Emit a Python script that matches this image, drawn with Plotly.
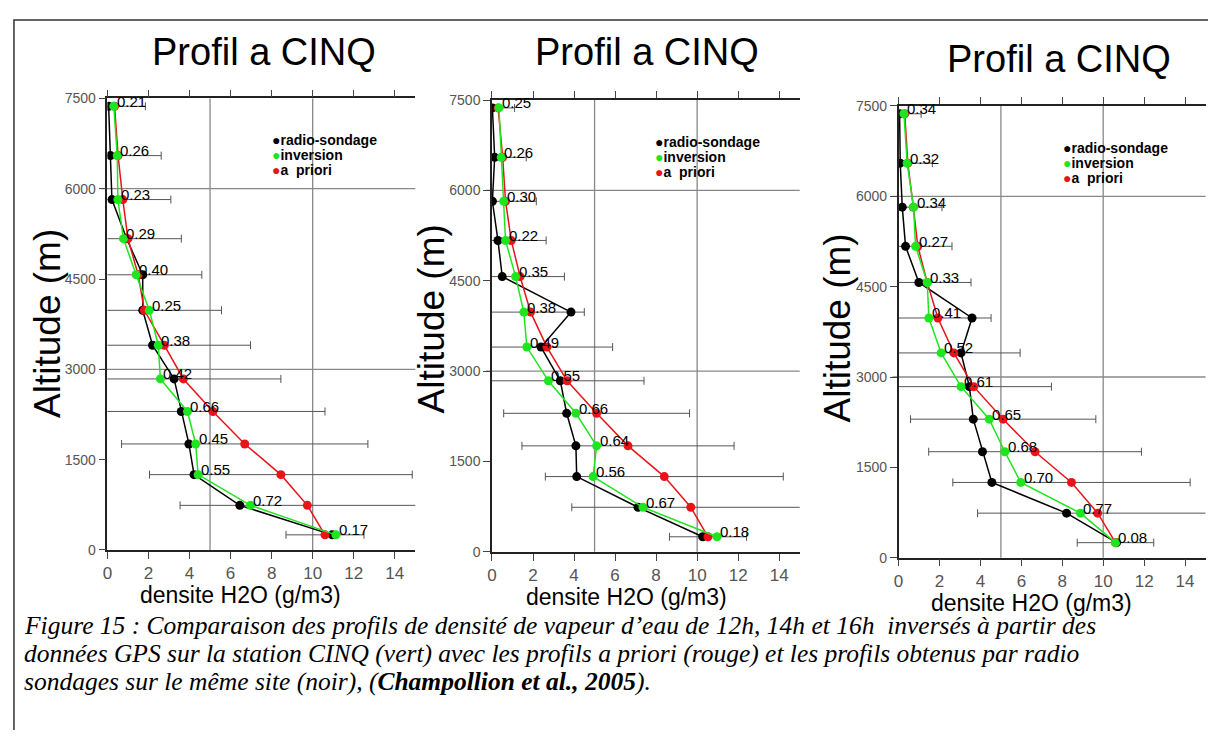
import plotly.graph_objects as go

PAGE_W, PAGE_H = 1216, 738
OFF = 8  # default margin of the html body around the figure
W, H = PAGE_W - 2 * OFF, PAGE_H - 2 * OFF

# ---------------- data ----------------
altitudes = [7370, 6550, 5820, 5170, 4570, 3980, 3400, 2840, 2300, 1760, 1250, 740, 250]

radio_12h = [0.06, 0.15, 0.22, 0.94, 1.72, 1.72, 2.2, 3.25, 3.6, 3.97, 4.22, 6.45, 10.95]
inversion_12h = [0.31, 0.48, 0.51, 0.78, 1.4, 2.04, 2.48, 2.58, 3.9, 4.3, 4.42, 6.97, 11.13]
apriori_12h = [0.35, 0.52, 0.75, 1.0, 1.5, 1.8, 2.77, 3.7, 5.14, 6.69, 8.45, 9.74, 10.6]
sigma_12h = [1.5, 2.1, 2.34, 2.6, 3.1, 3.76, 4.2, 4.75, 5.46, 6.0, 6.4, 6.2, 1.9]
labels_12h = ["0.21", "0.26", "0.23", "0.29", "0.40", "0.25", "0.38", "0.42", "0.66", "0.45", "0.55", "0.72", "0.17"]

radio_14h = [0.02, 0.13, 0.02, 0.29, 0.5, 3.85, 2.39, 3.33, 3.64, 4.09, 4.13, 7.12, 10.27]
inversion_14h = [0.34, 0.45, 0.57, 0.66, 1.15, 1.55, 1.7, 2.75, 4.09, 5.1, 4.93, 7.36, 10.97]
apriori_14h = [0.3, 0.52, 0.66, 0.94, 1.37, 1.88, 2.68, 3.66, 5.1, 6.63, 8.4, 9.69, 10.53]
sigma_14h = [0.8, 1.15, 1.5, 1.7, 2.16, 2.62, 3.2, 3.75, 4.53, 5.17, 5.8, 5.8, 1.88]
labels_14h = ["0.25", "0.26", "0.30", "0.22", "0.35", "0.38", "0.49", "0.55", "0.66", "0.64", "0.56", "0.67", "0.18"]

radio_16h = [0.05, 0.08, 0.18, 0.34, 0.99, 3.59, 3.05, 3.46, 3.65, 4.1, 4.56, 8.21, 10.65]
inversion_16h = [0.26, 0.42, 0.73, 0.83, 1.4, 1.48, 2.08, 3.05, 4.43, 5.19, 5.97, 8.89, 10.6]
apriori_16h = [0.3, 0.45, 0.72, 0.94, 1.4, 1.92, 2.7, 3.67, 5.11, 6.67, 8.45, 9.73, 10.6]
sigma_16h = [0.8, 1.2, 1.4, 1.67, 2.14, 2.6, 3.24, 3.8, 4.53, 5.2, 5.8, 5.87, 1.87]
labels_16h = ["0.34", "0.32", "0.34", "0.27", "0.33", "0.41", "0.52", "0.61", "0.65", "0.68", "0.70", "0.77", "0.08"]

x_ticks = [0, 2, 4, 6, 8, 10, 12, 14]
y_ticks = [0, 1500, 3000, 4500, 6000, 7500]
x_grid = [5, 10]
y_grid = [3000, 6000]

panel_title = "Profil a CINQ"
x_title = "densite H2O (g/m3)"
y_title = "Altitude (m)"
legend_names = ["radio-sondage", "inversion", "a  priori"]
caption_lines = [
    "Figure 15 : Comparaison des profils de densité de vapeur d’eau de 12h, 14h et 16h  inversés à partir des",
    "données GPS sur la station CINQ (vert) avec les profils a priori (rouge) et les profils obtenus par radio",
    "sondages sur le même site (noir), (<b>Champollion et al., 2005</b>).",
]

BLACK = "#000000"
GREEN = "#1ee61e"
RED = "#e8141a"
GREY = "#555555"

SANS = "Liberation Sans, Arial, sans-serif"
SERIF = "Liberation Serif, Times New Roman, serif"

# page-pixel placement of each panel (left/right of x-range, top/bottom of y-range)
panels = [
    dict(radio=radio_12h, inv=inversion_12h, apr=apriori_12h, sig=sigma_12h, lab=labels_12h,
         px=(102.8, 412.0), py=(92.3, 554.0), title=(260, 45), xt=(236, 600), yt=(42, 322), leg=(272, 135)),
    dict(radio=radio_14h, inv=inversion_14h, apr=apriori_14h, sig=sigma_14h, lab=labels_14h,
         px=(489.0, 798.0), py=(94.0, 556.0), title=(645, 45), xt=(624, 602), yt=(428, 318), leg=(657, 137)),
    dict(radio=radio_16h, inv=inversion_16h, apr=apriori_16h, sig=sigma_16h, lab=labels_16h,
         px=(897.3, 1205.5), py=(100.0, 562.0), title=(1058, 52), xt=(1031, 608), yt=(836, 327), leg=(1066, 143)),
]


def fx(px):
    return (px - OFF) / W


def fy(py):
    return 1 - (py - OFF) / H


fig = go.Figure()
annotations = []
shapes = []

for i, p in enumerate(panels):
    k = "" if i == 0 else str(i + 1)
    xa, ya = "x" + k, "y" + k
    # error bars centred on the a priori profile
    fig.add_trace(go.Scatter(
        x=p["apr"], y=altitudes, mode="markers", xaxis=xa, yaxis=ya,
        marker=dict(size=1, color="rgba(0,0,0,0)"),
        error_x=dict(type="data", array=p["sig"], symmetric=True, color=GREY, thickness=1, width=4),
        showlegend=False, hoverinfo="skip"))
    fig.add_trace(go.Scatter(
        x=p["radio"], y=altitudes, mode="lines+markers", xaxis=xa, yaxis=ya,
        line=dict(color=BLACK, width=1.5), marker=dict(color=BLACK, size=9), showlegend=False))
    fig.add_trace(go.Scatter(
        x=p["apr"], y=altitudes, mode="lines+markers", xaxis=xa, yaxis=ya,
        line=dict(color=RED, width=1.5), marker=dict(color=RED, size=9), showlegend=False))
    fig.add_trace(go.Scatter(
        x=p["inv"], y=altitudes, mode="lines+markers", xaxis=xa, yaxis=ya,
        line=dict(color=GREEN, width=1.5), marker=dict(color=GREEN, size=9), showlegend=False))
    for xv, yv, lab in zip(p["inv"], altitudes, p["lab"]):
        annotations.append(dict(text=lab, x=xv, y=yv, xref=xa, yref=ya, showarrow=False,
                                xanchor="left", yanchor="middle", xshift=1, yshift=5,
                                font=dict(family=SANS, size=15, color=BLACK)))

    x0, x1 = p["px"]
    y0, y1 = p["py"]
    axis_common = dict(showgrid=False, zeroline=False, showline=True, linecolor="#222222",
                       linewidth=1.5, ticks="outside", ticklen=7, tickcolor="#444444")
    fig.layout["xaxis" + k] = dict(
        domain=[fx(x0), fx(x1)], range=[0, 15], anchor=ya, tickvals=x_ticks,
        mirror="ticks", tickfont=dict(family=SANS, size=17, color="#555555"), **axis_common)
    fig.layout["yaxis" + k] = dict(
        domain=[fy(y1), fy(y0)], range=[0, 7500], anchor=xa, tickvals=y_ticks,
        tickfont=dict(family=SANS, size=14, color="#555555"), **axis_common)

    for g in x_grid:
        shapes.append(dict(type="line", xref=xa, yref=ya + " domain", x0=g, x1=g, y0=0, y1=1,
                           line=dict(color="#888888", width=1.3), layer="below"))
    for g in y_grid:
        shapes.append(dict(type="line", xref=xa + " domain", yref=ya, x0=-0.02, x1=1, y0=g, y1=g,
                           line=dict(color="#888888", width=1.3), layer="below"))

    tx, ty = p["title"]
    annotations.append(dict(text=panel_title, x=fx(tx), y=fy(ty), xref="paper", yref="paper",
                            showarrow=False, xanchor="center", yanchor="middle",
                            font=dict(family=SANS, size=38, color=BLACK)))
    ax_, ay_ = p["xt"]
    annotations.append(dict(text=x_title, x=fx(ax_), y=fy(ay_), xref="paper", yref="paper",
                            showarrow=False, xanchor="center", yanchor="middle",
                            font=dict(family=SANS, size=23, color=BLACK)))
    bx, by = p["yt"]
    annotations.append(dict(text=y_title, x=fx(bx), y=fy(by), xref="paper", yref="paper",
                            showarrow=False, xanchor="center", yanchor="middle", textangle=-90,
                            font=dict(family=SANS, size=37, color=BLACK)))
    lx, ly = p["leg"]
    for j, (name, col) in enumerate(zip(legend_names, [BLACK, GREEN, RED])):
        annotations.append(dict(
            text="<span style='color:%s'>●</span><b>%s</b>" % (col, name),
            x=fx(lx - 6), y=fy(ly + j * 15.5), xref="paper", yref="paper", showarrow=False,
            xanchor="left", yanchor="middle", font=dict(family=SANS, size=14, color=BLACK)))

for j, line in enumerate(caption_lines):
    annotations.append(dict(text="<i>%s</i>" % line, x=fx(17), y=fy(631 + j * 29), xref="paper",
                            yref="paper", showarrow=False, xanchor="left", yanchor="middle",
                            font=dict(family=SERIF, size=25.5, color=BLACK)))

# outer frame of the figure box
shapes.append(dict(type="rect", xref="paper", yref="paper", x0=0.0008, x1=fx(1212), y0=-0.05, y1=fy(12),
                   line=dict(color="#333333", width=1.5), fillcolor="rgba(0,0,0,0)"))

fig.update_layout(
    width=W, height=H, margin=dict(l=0, r=0, t=0, b=0),
    paper_bgcolor="white", plot_bgcolor="white",
    annotations=annotations, shapes=shapes, showlegend=False,
)

fig.write_html("out.html")
